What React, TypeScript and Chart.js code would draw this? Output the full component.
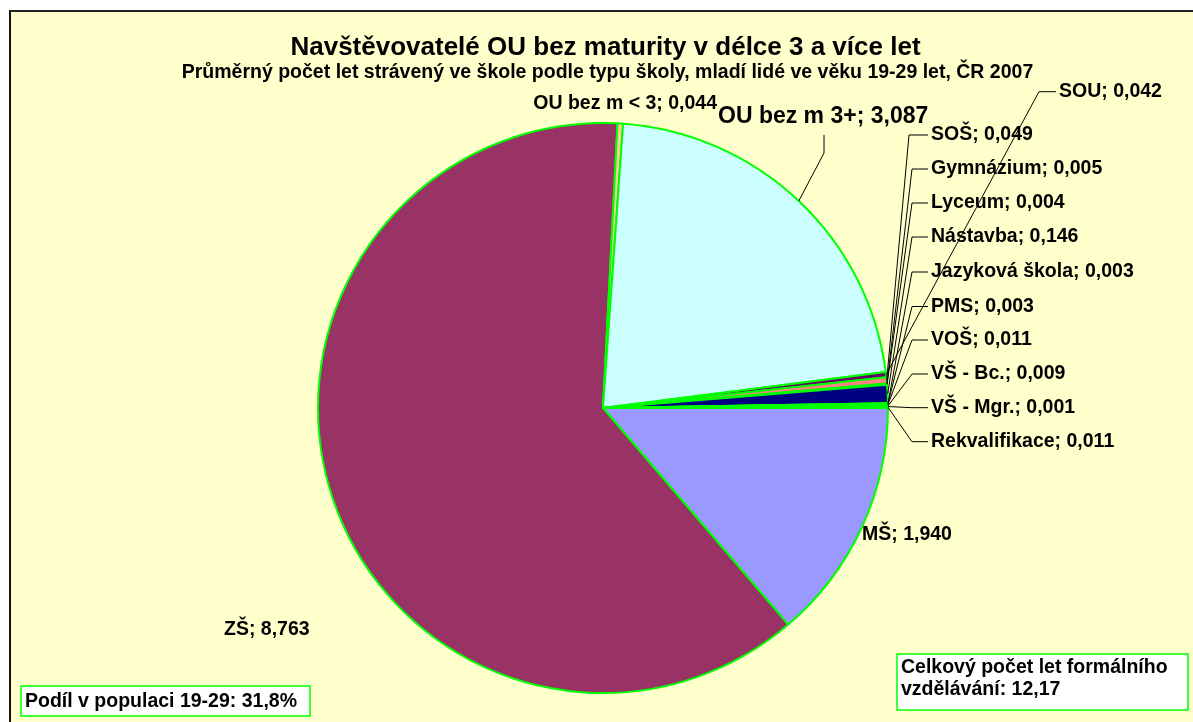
import React, { useEffect, useRef } from "react";
import { Chart, registerables } from "chart.js";

Chart.register(...registerables);

// ---- data ----
const categories = [
  "MŠ",
  "ZŠ",
  "OU bez m < 3",
  "OU bez m 3+",
  "SOU",
  "SOŠ",
  "Gymnázium",
  "Lyceum",
  "Nástavba",
  "Jazyková škola",
  "PMS",
  "VOŠ",
  "VŠ - Bc.",
  "VŠ - Mgr.",
  "Rekvalifikace",
];
const values = [1.94, 8.763, 0.044, 3.087, 0.042, 0.049, 0.005, 0.004, 0.146, 0.003, 0.003, 0.011, 0.009, 0.001, 0.011];
const sliceColors = [
  "#9999FF", "#993366", "#FFCC99", "#CCFFFF", "#660066", "#FF8080", "#0066CC", "#CCCCFF",
  "#000080", "#FF00FF", "#FFFF00", "#00FFFF", "#800080", "#800000", "#008080",
];
const titleText = "Navštěvovatelé OU bez maturity v délce 3 a více let";
const subtitleText = "Průměrný počet let strávený ve škole podle typu školy, mladí lidé ve věku 19-29 let, ČR 2007";
const noteLeft = ["Podíl v populaci 19-29: 31,8%"];
const noteRight = ["Celkový počet let formálního", "vzdělávání: 12,17"];

// ---- layout (page coordinates; converted to canvas below) ----
const OX = 11;
const OY = 12;
const FONT = '"Liberation Sans", Arial, sans-serif';
type LabelLayout = { x: number; cy: number; align: "left" | "right"; size: number; leader: number[][] | null };
const rightLabel = (cy: number, x = 931, lx = 912): LabelLayout => ({
  x, cy, align: "left", size: 19.5, leader: [[lx, cy], [x - 3, cy]],
});
const labelLayout: LabelLayout[] = [
  { x: 862, cy: 535, align: "left", size: 19.5, leader: null },
  { x: 224, cy: 630, align: "left", size: 19.5, leader: null },
  { x: 717, cy: 104, align: "right", size: 19.5, leader: null },
  { x: 718, cy: 116.5, align: "left", size: 23, leader: [[824, 153], [824, 135]] },
  rightLabel(91.7, 1059, 1039),
  rightLabel(135, 931, 909),
  rightLabel(169),
  rightLabel(203),
  rightLabel(237),
  rightLabel(272),
  rightLabel(306.5),
  rightLabel(340),
  rightLabel(374),
  rightLabel(407.7),
  rightLabel(441.7),
];

const fmt = (v: number) => v.toFixed(3).replace(".", ",");

const overlayPlugin = {
  id: "overlay",
  afterDatasetsDraw(chart: any) {
    const ctx: CanvasRenderingContext2D = chart.ctx;
    const meta = chart.getDatasetMeta(0);
    ctx.save();
    ctx.fillStyle = "#000";
    ctx.textBaseline = "middle";

    // titles
    ctx.textAlign = "center";
    ctx.font = `bold 26px ${FONT}`;
    ctx.fillText(titleText, 605.5 - OX, 48 - OY);
    ctx.font = `bold 19.5px ${FONT}`;
    ctx.fillText(subtitleText, 607.5 - OX, 73 - OY);

    // labels + leaders
    meta.data.forEach((arc: any, i: number) => {
      const L = labelLayout[i];
      if (!L) return;
      const p = arc.getProps(["x", "y", "startAngle", "endAngle", "outerRadius"], true);
      const mid = (p.startAngle + p.endAngle) / 2;
      const ax = p.x + Math.cos(mid) * p.outerRadius;
      const ay = p.y + Math.sin(mid) * p.outerRadius;
      if (L.leader) {
        ctx.beginPath();
        ctx.strokeStyle = "#000";
        ctx.lineWidth = 1;
        ctx.moveTo(ax, ay);
        L.leader.forEach(([lx, ly]) => ctx.lineTo(lx - OX, ly - OY));
        ctx.stroke();
      }
      ctx.font = `bold ${L.size}px ${FONT}`;
      ctx.textAlign = L.align;
      ctx.fillText(`${categories[i]}; ${fmt(values[i])}`, L.x - OX, L.cy - OY);
    });

    // note boxes
    const box = (x1: number, y1: number, x2: number, y2: number, lines: string[], tx: number, ty: number[]) => {
      ctx.fillStyle = "#FFFFFF";
      ctx.fillRect(x1 - OX, y1 - OY, x2 - x1, y2 - y1);
      ctx.strokeStyle = "#00FF00";
      ctx.lineWidth = 1.5;
      ctx.strokeRect(x1 - OX, y1 - OY, x2 - x1, y2 - y1);
      ctx.fillStyle = "#000";
      ctx.textAlign = "left";
      ctx.font = `bold 19.5px ${FONT}`;
      lines.forEach((t, k) => ctx.fillText(t, tx - OX, ty[k] - OY));
    };
    box(21, 686, 310, 716, noteLeft, 25, [702]);
    box(897, 654, 1188, 710, noteRight, 901, [667.5, 690]);
    ctx.restore();
  },
};

export default function App() {
  const ref = useRef<HTMLCanvasElement | null>(null);
  useEffect(() => {
    if (!ref.current) return;
    const chart = new Chart(ref.current, {
      type: "pie",
      data: {
        labels: categories,
        datasets: [
          {
            data: values,
            backgroundColor: sliceColors,
            borderColor: "#00FF00",
            borderWidth: 2,
          },
        ],
      },
      options: {
        animation: false,
        responsive: false,
        devicePixelRatio: 1,
        rotation: 90,
        radius: 285,
        layout: { padding: { left: 300, right: 298, top: 100, bottom: 18 } },
        plugins: {
          legend: { display: false },
          title: { display: false },
          tooltip: { enabled: false },
        },
      },
      plugins: [overlayPlugin],
    });
    return () => chart.destroy();
  }, []);
  return (
    <div
      style={{
        position: "absolute",
        left: 9,
        top: 10,
        width: 1182,
        height: 710,
        borderTop: "2px solid #222",
        borderLeft: "2px solid #111",
        background: "#FFFFCC",
        overflow: "hidden",
      }}
    >
      <canvas ref={ref} width={1182} height={710} style={{ display: "block", width: 1182, height: 710 }} />
    </div>
  );
}
